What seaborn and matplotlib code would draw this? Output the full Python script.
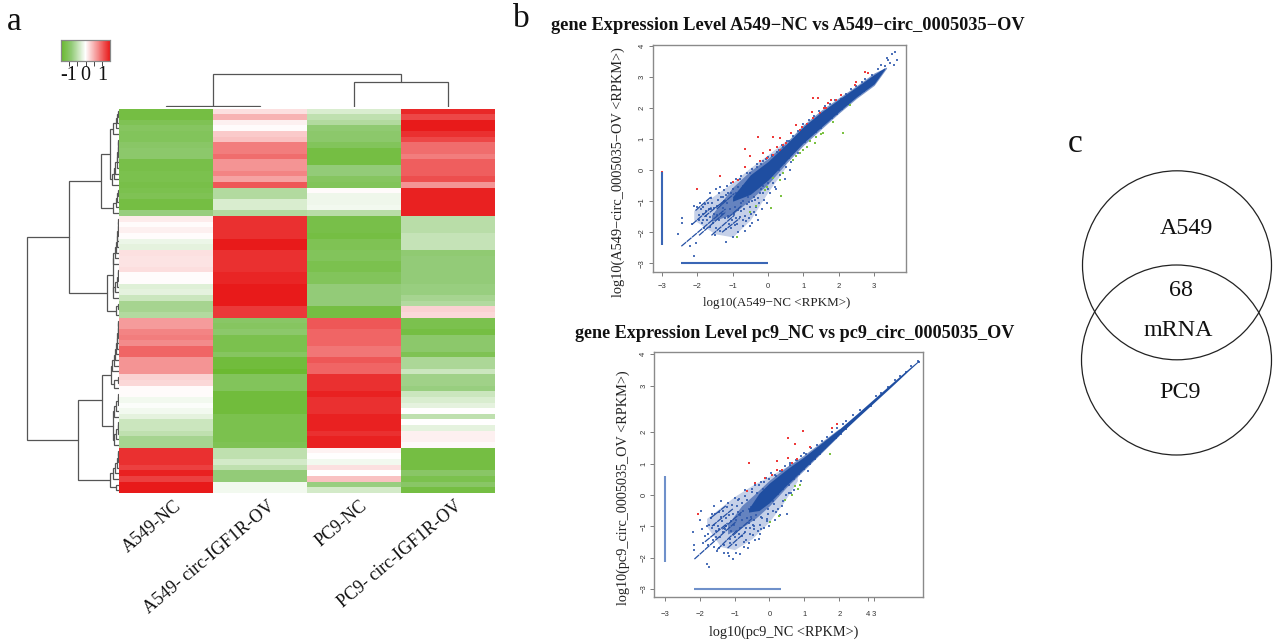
import pandas as pd
import seaborn as sns
import matplotlib.pyplot as plt
from matplotlib.colors import LinearSegmentedColormap
from matplotlib.patches import Circle

W, H = 1274, 641

# heatmap values
samples = ['A549-NC', 'A549- circ-IGF1R-OV', 'PC9-NC', 'PC9- circ-IGF1R-OV']
a549_nc = [-1.3, -1.3, -1.15, -1.05, -1.1, -1.1, -1.0, -0.95, -0.95, -1.25, -1.25, -1.2, -1.2, -1.25, -1.2, -1.15, -1.3, -1.3, -0.8,
           0.12, 0.03, 0.1, 0.02, -0.15, -0.2, 0.2, 0.18, 0.18, 0.22, 0.02, 0.02, -0.25, -0.2, -0.4, -0.7, -0.7, -0.6,
           0.65, 0.65, 0.8, 0.85, 0.75, 1.0, 1.0, 0.7, 0.7, 0.7, 0.3, 0.25, 0.03, 0.03, -0.1, -0.03, -0.1, -0.2, -0.4, -0.4, -0.5, -0.7, -0.7,
           1.35, 1.35, 1.35, 1.25, 1.45, 1.25, 1.5, 1.5]
a549_circ = [0.2, 0.5, 0.1, 0.03, 0.35, 0.4, 0.85, 0.85, 0.95, 0.7, 0.7, 0.8, 0.6, 1.1, -0.6, -0.6, -0.3, -0.3, -0.6,
             1.35, 1.35, 1.35, 1.35, 1.5, 1.5, 1.35, 1.35, 1.35, 1.35, 1.42, 1.42, 1.5, 1.5, 1.5, 1.5, 1.3, 1.3,
             -1.0, -1.05, -0.95, -1.2, -1.2, -1.2, -1.05, -1.35, -1.35, -1.45, -1.1, -1.1, -1.1, -1.35, -1.35, -1.35, -1.35, -1.2, -1.2, -1.2, -1.2, -1.2, -1.15,
             -0.5, -0.5, -0.35, -0.5, -0.85, -0.85, -0.1, -0.1]
pc9_nc = [-0.3, -0.5, -0.6, -0.9, -0.95, -0.95, -1.1, -1.3, -1.3, -1.3, -0.85, -0.85, -1.05, -1.1, 0.03, -0.12, -0.12, -0.1, -0.55,
          -1.25, -1.25, -1.25, -1.3, -1.15, -1.15, -1.1, -1.1, -1.2, -1.2, -1.1, -1.1, -0.85, -0.85, -0.85, -0.85, -1.3, -1.3,
          1.1, 1.1, 1.0, 1.0, 1.0, 0.9, 0.9, 1.1, 1.0, 1.0, 1.35, 1.35, 1.35, 1.45, 1.35, 1.35, 1.35, 1.45, 1.45, 1.45, 1.35, 1.45, 1.45,
          0.08, 0.0, -0.1, 0.2, 0.0, 0.4, -0.8, -0.35]
pc9_circ = [1.4, 1.2, 1.5, 1.5, 1.35, 1.2, 0.95, 0.95, 0.85, 1.05, 1.05, 1.05, 1.15, 0.7, 1.45, 1.45, 1.45, 1.45, 1.45,
            -0.55, -0.55, -0.55, -0.45, -0.45, -0.45, -0.9, -0.85, -0.85, -0.85, -0.85, -0.85, -0.8, -0.8, -0.7, -0.6, 0.3, 0.25,
            -1.2, -1.2, -1.3, -0.95, -0.95, -0.95, -1.15, -0.65, -0.65, -0.4, -0.75, -0.75, -0.8, -0.4, -0.3, -0.2, 0.0, -0.5, 0.0, -0.2, 0.1, 0.1, 0.04,
            -1.3, -1.3, -1.3, -1.3, -1.0, -1.2, -1.0, -1.3]

# row dendrogram: runs of rows (first, last, height) then the links above them
row_runs = [(0, 4, 6), (5, 13, 7), (14, 18, 6), (19, 27, 6), (28, 33, 6), (34, 36, 3),
            (37, 46, 7), (47, 49, 5), (50, 54, 5), (55, 59, 5), (60, 65, 6), (66, 67, 3)]
row_tree = (92, (50, (18.4, (9, 'r0', 'r1'), 'r2'), (12, (6, 'r3', 'r4'), 'r5')),
            (41, (17, (8, 'r6', 'r7'), (6, 'r8', 'r9')), (9, 'r10', 'r11')))
# column dendrogram: (height, left, right) with leaves as column index
col_tree = (33, (1, 0, 1), (25, 2, 3))

# scatter A549: dense band, softer layers round it, outer cloud, streaks
a549_band_x = [-1.0, -0.5, 0.0, 0.5, 1.0, 1.5, 2.0, 2.5, 3.0, 3.3]
a549_band_hi = [-0.85, -0.15, 0.28, 0.82, 1.4, 1.87, 2.28, 2.68, 3.08, 3.3]
a549_band_lo = [-1.0, -0.78, -0.32, 0.28, 0.88, 1.38, 1.88, 2.36, 2.78, 3.25]
a549_mid_x = [-1.6, -1.0, -0.5, 0.0, 0.5, 1.0, 1.5, 2.0, 2.5, 3.0, 3.35]
a549_mid_hi = [-1.45, -0.55, -0.02, 0.38, 0.88, 1.46, 1.93, 2.33, 2.72, 3.13, 3.32]
a549_mid_lo = [-1.65, -1.42, -0.95, -0.45, 0.2, 0.8, 1.32, 1.83, 2.31, 2.73, 3.28]
a549_halo_x = [-2.1, -1.5, -1.0, -0.5, 0.0, 0.5]
a549_halo_hi = [-1.3, -0.8, -0.4, 0.08, 0.5, 0.95]
a549_halo_lo = [-1.6, -2.05, -2.15, -1.6, -0.7, 0.1]
a549_cloud = [(-2.55, -2.05), (-2.42, -1.55), (-2.42, -1.7), (-2.1, -1.15), (-2.0, -1.2), (-1.95, -1.45), (-1.9, -1.25), (-2.15, -1.75),
              (-2.2, -2.45), (-2.1, -2.75), (-2.05, -2.35), (-1.85, -1.6), (-1.8, -1.85), (-1.75, -1.3), (-1.7, -1.05), (-1.65, -1.5),
              (-1.6, -0.9), (-1.55, -1.7), (-1.5, -2.1), (-1.45, -1.15), (-1.4, -0.75), (-1.35, -1.95), (-1.3, -1.4), (-1.25, -0.65),
              (-1.2, -2.3), (-1.15, -1.05), (-1.1, -1.75), (-1.05, -0.4), (-1.0, -2.15), (-0.95, -0.95), (-0.9, -1.55), (-0.85, -2.0),
              (-0.8, -0.3), (-0.75, -1.3), (-0.7, -1.8), (-0.65, -0.7), (-0.6, -1.1), (-0.55, -1.55), (-0.5, -0.1), (-0.45, -1.0),
              (-0.4, -1.35), (-1.62, -1.25), (-1.58, -1.05), (-1.52, -1.4), (-1.48, -1.85), (-1.42, -0.95), (-1.38, -1.6), (-1.33, -1.1),
              (-1.28, -0.85), (-1.22, -1.55), (-1.18, -1.9), (-1.12, -0.75), (-1.08, -1.25), (-1.02, -1.6), (-0.98, -0.6), (-0.92, -1.2),
              (-0.88, -1.75), (-0.82, -0.85), (-0.78, -1.5), (-0.72, -0.5), (-0.68, -1.25), (-0.62, -1.65), (-0.58, -0.35), (-0.52, -1.2),
              (-0.48, -1.4), (-0.42, -0.2), (-0.38, -0.95), (-0.35, -1.2), (-0.3, 0.1), (-0.28, -0.9), (-0.25, -1.05), (-0.2, 0.2),
              (-0.15, -0.75), (-0.1, -0.95), (-0.05, 0.35), (0.0, -0.6), (0.05, -0.75), (0.1, 0.45), (0.15, -0.4), (0.2, -0.55),
              (0.3, 0.65), (0.35, -0.15), (0.42, 0.75), (0.5, 0.1), (0.6, 0.95), (0.65, 0.25), (0.75, 1.05), (0.85, 0.55),
              (-1.72, -1.62), (-1.68, -1.25), (-1.63, -0.75), (-1.78, -1.1), (-1.83, -1.42), (-1.88, -1.7), (-1.92, -1.05), (-1.36, -0.55),
              (-1.26, -1.22), (-1.16, -0.5), (-1.06, -1.85), (-0.96, -1.4), (-0.86, -0.55), (-0.76, -1.05), (-0.66, -1.95), (-0.56, -0.85),
              (-0.46, -1.7), (-0.36, -0.6), (-0.26, -0.35), (-0.16, -1.25), (-0.06, -0.35), (3.2, 3.4), (3.3, 3.35), (3.4, 3.55), (3.5, 3.75),
              (3.6, 3.8), (3.65, 3.55), (3.55, 3.4), (3.2, 3.15), (3.05, 3.0), (2.95, 3.05), (3.0, 2.8), (2.85, 2.75), (3.1, 3.25), (3.35, 3.6),
              (3.45, 3.45), (2.75, 2.95), (2.65, 2.85), (2.6, 2.45), (2.7, 2.55)]
a549_edge = [(-0.9, -0.3), (-0.75, -0.2), (-0.6, -0.1), (-0.45, 0.05), (-0.3, 0.2), (-0.15, 0.3), (0.0, 0.42), (0.1, 0.5), (0.25, 0.6), (0.4, 0.8),
             (0.55, 0.95), (0.7, 1.1), (0.85, 1.25), (1.0, 1.5), (1.15, 1.6), (1.3, 1.75), (1.45, 1.9), (1.6, 2.05), (1.75, 2.12), (1.9, 2.25),
             (2.05, 2.3), (2.2, 2.45), (2.35, 2.6), (2.5, 2.72), (-0.7, -1.0), (-0.4, -0.85), (-0.2, -0.6), (0.0, -0.4), (0.15, -0.25), (0.3, 0.02),
             (0.45, 0.22), (0.6, 0.4), (0.75, 0.65), (0.9, 0.8), (1.05, 0.92), (1.2, 1.1), (1.35, 1.22), (1.5, 1.35), (1.65, 1.55), (1.8, 1.68),
             (1.95, 1.82), (2.1, 1.98), (2.25, 2.12), (2.4, 2.3), (2.55, 2.42), (2.7, 2.55), (-1.24, -0.98), (-1.14, -1.48), (-1.04, -0.72), (-0.94, -1.78),
             (-0.84, -1.28), (-0.74, -0.78), (-0.64, -1.48), (-0.54, -1.02), (-0.44, -0.58), (-0.34, -1.46), (-0.24, -0.72), (-0.14, -0.5), (-1.44, -1.45),
             (-1.34, -0.88), (-1.54, -1.22), (-1.64, -1.82), (-1.74, -1.48), (-1.84, -1.18), (-1.94, -1.62), (-0.6, -0.55), (-0.3, -0.2), (0.08, 0.2),
             (-1.46, -0.62), (-1.2, -0.8), (-0.9, -0.75), (-0.72, -1.6), (-0.5, -1.8), (-0.28, -1.6), (-0.02, -1.05), (0.22, -0.62), (0.48, -0.3), (0.62, 0.0)]
a549_red = [(-2.0, -0.62), (-0.66, 0.11), (-0.64, 0.68), (-0.51, 0.44), (-0.28, 1.08), (0.15, 1.06), (0.33, 1.03), (-0.14, 0.54), (0.05, 0.65),
            (0.24, 0.76), (0.43, 0.81), (0.66, 1.19), (0.8, 1.46), (0.95, 1.4), (1.09, 1.5), (1.23, 1.88), (1.27, 2.31), (1.41, 2.31), (1.57, 1.99),
            (1.7, 2.15), (1.79, 2.26), (1.93, 2.26), (2.07, 2.42), (2.5, 2.85), (2.73, 3.15), (2.83, 3.14), (2.45, 2.74), (-0.84, -0.31), (-0.98, -0.37),
            (-1.36, -0.2), (-0.23, 0.28), (-0.04, 0.38), (0.15, 0.5), (0.52, 0.87), (0.33, 0.65), (0.9, 1.3), (1.27, 1.67), (1.46, 1.83), (1.65, 1.99),
            (-3, -0.05), (-3, -0.15), (-3, -0.35), (-3, -0.45), (-3, -0.7)]
a549_green = [(-0.89, -2.16), (-0.51, -1.34), (-0.33, -1.17), (-0.09, -0.64), (0.08, -1.23), (0.38, -0.82), (0.15, -0.26), (0.43, -0.1), (0.71, 0.33),
              (0.9, 0.54), (1.09, 0.76), (1.32, 0.87), (1.56, 1.19), (1.37, 1.08), (1.84, 1.56), (2.12, 1.21), (2.33, 2.1), (0.8, 0.44), (0.99, 0.65),
              (0.33, -0.32), (-0.04, -0.53), (1.2, 0.95), (1.5, 1.15)]
a549_streak_x0 = [-2.45, -2.15, -1.95, -1.8, -1.6, -1.45, -2.05, -1.3, -1.15]
a549_streak_y0 = [-2.45, -1.75, -2.1, -1.5, -2.1, -1.25, -1.3, -2.0, -1.55]
a549_streak_x1 = [-1.2, -1.6, -1.2, -1.2, -0.95, -0.95, -1.6, -0.8, -0.75]
a549_streak_y1 = [-1.25, -1.2, -1.35, -0.95, -1.45, -0.75, -0.85, -1.55, -1.15]
a549_strip_v = [-2.4, -0.05]
a549_strip_h = [-2.45, 0.0]

# scatter PC9, the same pieces
pc9_band_x = [-0.6, -0.3, 0.0, 0.5, 1.0, 1.5, 2.0, 2.5, 3.0, 3.5, 4.0, 4.28]
pc9_band_hi = [-0.45, 0.05, 0.38, 0.82, 1.22, 1.66, 2.1, 2.58, 3.07, 3.56, 4.04, 4.3]
pc9_band_lo = [-0.55, -0.5, -0.25, 0.32, 0.85, 1.38, 1.92, 2.44, 2.95, 3.46, 3.98, 4.26]
pc9_mid_x = [-1.2, -0.8, -0.4, 0.0, 0.5, 1.0, 1.5, 2.0]
pc9_mid_hi = [-0.95, -0.35, 0.05, 0.47, 0.9, 1.28, 1.7, 2.12]
pc9_mid_lo = [-1.25, -1.05, -0.75, -0.35, 0.26, 0.8, 1.35, 1.9]
pc9_halo_x = [-1.8, -1.4, -1.0, -0.5, 0.0, 0.4, 0.8]
pc9_halo_hi = [-0.75, -0.4, -0.05, 0.3, 0.6, 0.85, 1.1]
pc9_halo_lo = [-1.0, -1.65, -1.75, -1.4, -0.85, -0.25, 0.45]
pc9_cloud = [(-2.2, -1.2), (-2.15, -1.6), (-2.15, -1.75), (-2.0, -0.8), (-1.95, -0.5), (-1.9, -1.55), (-1.8, -1.0), (-1.78, -2.2),
             (-1.75, -1.25), (-1.72, -2.3), (-1.68, -0.75), (-1.62, -1.45), (-1.6, -0.35), (-1.58, -0.95), (-1.52, -1.15), (-1.5, -1.8),
             (-1.45, -0.55), (-1.42, -1.35), (-1.38, -0.2), (-1.35, -0.85), (-1.3, -1.6), (-1.28, -1.1), (-1.22, -0.4), (-1.2, -1.85),
             (-1.15, -0.65), (-1.12, -1.4), (-1.05, -2.05), (-1.02, -0.95), (-0.98, -0.1), (-0.95, -1.6), (-0.9, -0.55), (-0.88, -1.25),
             (-0.85, -1.9), (-0.8, -0.25), (-0.78, -0.8), (-0.72, -1.5), (-0.7, 0.15), (-0.68, -1.05), (-0.62, -1.7), (-0.6, -0.45),
             (-0.55, -1.25), (-0.5, 0.2), (-0.48, -0.95), (-0.42, -1.45), (-0.4, 0.3), (-0.38, -0.65), (-0.32, -1.15), (-0.3, -1.4),
             (-0.25, 0.4), (-0.2, -0.75), (-0.15, -1.05), (-0.1, 0.55), (-0.05, -0.6), (0.0, -1.0), (0.05, 0.7), (0.1, -0.5),
             (0.15, -0.8), (0.2, 0.6), (0.25, -0.45), (0.3, -0.65), (0.35, 0.75), (0.4, -0.2), (0.5, -0.6), (0.55, 0.05), (0.6, 0.95),
             (0.7, 0.15), (0.8, 1.1), (0.9, 0.45), (1.0, 1.35), (1.1, 0.75), (-1.65, -1.05), (-1.55, -0.6), (-1.48, -1.0), (-1.4, -0.7),
             (-1.33, -1.2), (-1.25, -0.75), (-1.18, -0.25), (-1.1, -0.85), (-1.0, -1.35), (-0.93, -0.35), (-0.83, -1.05), (-0.75, -0.5),
             (-0.65, -0.15), (-0.58, -1.55), (-0.52, -0.7), (-0.45, -1.1), (-0.35, 0.05), (-0.27, -1.25), (-0.18, 0.2), (-0.08, -0.85),
             (0.02, 0.3), (0.12, -0.3), (-1.75, -1.6), (-1.6, -1.65), (-1.45, -1.7), (-1.3, -1.85), (-1.15, -1.95), (-0.95, -1.85),
             (-0.7, -1.2), (-0.6, -0.9), (3.05, 3.15), (3.2, 3.25), (3.4, 3.45), (3.6, 3.68), (3.75, 3.8), (3.9, 3.92), (4.05, 4.12), (4.25, 4.28), (4.3, 4.25),
             (2.6, 2.72), (2.4, 2.55), (2.2, 2.35), (2.75, 2.7), (2.9, 2.85)]
pc9_edge = [(-0.9, -0.15), (-0.7, -0.05), (-0.5, 0.08), (-0.3, 0.3), (-0.15, 0.42), (0.0, 0.52), (0.15, 0.62), (0.3, 0.75), (0.45, 0.92), (0.6, 1.02),
            (0.75, 1.12), (0.9, 1.25), (1.05, 1.32), (1.2, 1.48), (1.35, 1.58), (1.5, 1.72), (1.65, 1.85), (1.8, 2.0), (1.95, 2.15), (2.1, 2.27),
            (-0.45, -0.98), (-0.25, -0.72), (-0.05, -0.45), (0.1, -0.2), (0.25, 0.02), (0.4, 0.18), (0.55, 0.3), (0.7, 0.52), (0.85, 0.68), (1.0, 0.82),
            (1.15, 1.0), (1.3, 1.15), (1.45, 1.3), (1.6, 1.48), (1.75, 1.65), (1.9, 1.8), (2.05, 1.95), (2.2, 2.1), (-1.24, -1.0), (-1.14, -1.55), (-1.04, -0.6),
            (-0.94, -1.15), (-0.84, -0.65), (-0.74, -1.65), (-0.64, -0.75), (-0.54, -0.4), (-0.44, -0.8), (-0.34, -0.35), (-0.24, -1.1), (-0.14, -0.2),
            (-1.44, -1.1), (-1.34, -0.5), (-1.54, -1.35), (-1.64, -0.6), (-1.74, -0.95), (-1.84, -1.3), (-1.94, -1.1), (-1.06, -0.32), (-0.86, -0.12),
            (-0.66, -1.45), (-0.46, -1.28), (-0.26, -0.95), (-0.06, -0.78), (0.18, -0.55), (0.35, -0.35), (0.48, 0.0), (0.62, 0.05), (-1.1, -1.15),
            (-0.95, -0.8), (-0.78, -1.3), (-0.56, -1.05), (-0.2, 0.05), (0.05, 0.12)]
pc9_red = [(-2.05, -0.62), (-0.58, 1.02), (0.54, 1.81), (0.95, 2.05), (0.73, 1.63), (0.23, 1.09), (0.54, 1.17), (0.64, 1.03), (0.78, 1.14),
           (0.21, 0.8), (0.35, 0.78), (0.07, 0.64), (-0.12, 0.53), (-0.41, 0.39), (-0.63, 0.11), (1.16, 1.54), (1.78, 2.13), (1.95, 2.27)]
pc9_green = [(0.02, -0.88), (0.26, -0.69), (0.45, -0.16), (0.64, 0.0), (0.74, 0.27), (0.83, 0.19), (1.74, 1.31), (0.88, 0.32)]
pc9_streak_x0 = [-2.15, -1.85, -1.65, -1.5, -1.35, -1.2, -1.7, -1.05]
pc9_streak_y0 = [-2.05, -1.5, -1.0, -1.75, -1.1, -1.7, -0.75, -1.3]
pc9_streak_x1 = [-0.95, -1.2, -1.05, -0.95, -0.8, -0.7, -1.25, -0.5]
pc9_streak_y1 = [-0.85, -0.9, -0.45, -1.15, -0.55, -1.2, -0.35, -0.75]
pc9_strip_v = [-2.15, 0.6]
pc9_strip_h = [-2.15, 0.33]

y_ticks_a549 = [-3, -2, -1, 0, 1, 2, 3, 4]
x_ticks_a549 = [-3, -2, -1, 0, 1, 2, 3]
# the second plot has odd tick places, 4 and 3 sit side by side on x
x_ticks_pc9 = [-3, -2, -1, 0, 1, 2, 2.83, 3]
x_labels_pc9 = ['\u22123', '\u22122', '\u22121', '0', '1', '2', '4', '3']
y_ticks_pc9 = [-3, -2, -1, 0, 1, 2, 3.49, 4.5]
y_labels_pc9 = ['\u22123', '\u22122', '\u22121', '0', '1', '2', '3', '4']

sns.set_theme(style='white')
plt.rcParams['font.family'] = ['Liberation Serif', 'DejaVu Sans']

fig = plt.figure(figsize=(W / 100, H / 100), dpi=100)


def px_axes(x0, y0, x1, y1):
    return fig.add_axes([x0 / W, 1 - y1 / H, (x1 - x0) / W, (y1 - y0) / H])


def make_run(first, last, top):
    # long thin chain of merges close to the heatmap
    node = first
    rows = list(range(first + 1, last + 1))
    for i, r in enumerate(rows):
        node = (1 + (top - 1) * ((i + 1) / len(rows)) ** 3, node, r)
    return node


def draw_tree(ax, node, leaf_pos, vertical_rows):
    # returns (position, height) of the node
    if isinstance(node, str):
        first, last, top = row_runs[int(node[1:])]
        node = make_run(first, last, top)
    if not isinstance(node, tuple):
        return leaf_pos(node), 0
    h, a, b = node
    pa, ha = draw_tree(ax, a, leaf_pos, vertical_rows)
    pb, hb = draw_tree(ax, b, leaf_pos, vertical_rows)
    hs = [ha, h, h, hb]
    ps = [pa, pa, pb, pb]
    if vertical_rows:
        ax.plot(hs, ps, color='#555555', lw=0.9, solid_joinstyle='miter')
    else:
        ax.plot(ps, hs, color='#555555', lw=0.9, solid_joinstyle='miter')
    return (pa + pb) / 2, h


# panel a
heat = pd.DataFrame({'a': a549_nc, 'b': a549_circ, 'c': pc9_nc, 'd': pc9_circ})
cmap = LinearSegmentedColormap.from_list('gwr', [(0, '#68b82c'), (0.217, '#93cb78'), (0.5, '#ffffff'), (1, '#e81a1a')])
ax_heat = px_axes(119, 108.5, 495, 493)
ax_cbar = px_axes(61, 40, 110, 61)
sns.heatmap(heat, ax=ax_heat, cmap=cmap, vmin=-1.5, vmax=1.5, yticklabels=False,
            cbar_ax=ax_cbar, cbar_kws={'orientation': 'horizontal', 'ticks': [-1, -0.5, 0, 0.5, 1]})
ax_heat.set_xticks([0.64, 1.64, 2.62, 3.63], samples, rotation=40, ha='right', va='center',
                   rotation_mode='anchor', fontsize=13, color='#111111')
ax_heat.tick_params(axis='x', length=0, pad=8)

ax_cbar.set_xticklabels(['-1', '', '0', '', '1'], fontsize=14.5, color='#111111')
ax_cbar.tick_params(axis='x', length=3.5, width=0.7, color='#444444', pad=0, bottom=True)
for spine in ax_cbar.spines.values():
    spine.set_visible(True)
    spine.set_color('#888888')
    spine.set_linewidth(0.8)

ax_rows = px_axes(26, 108.5, 119, 493)
draw_tree(ax_rows, row_tree, lambda r: r + 0.5, True)
ax_rows.set_xlim(93, 0)
ax_rows.set_ylim(68, 0)
ax_rows.axis('off')

ax_cols = px_axes(119, 70, 495, 107)
draw_tree(ax_cols, col_tree, lambda c: c + 0.5, False)
ax_cols.set_xlim(0, 4)
ax_cols.set_ylim(0, 37)
ax_cols.axis('off')


def draw_scatter(box, xlim, ylim, band, mid, halo, cloud, red, green, streaks, strip_v, strip_h, strip_color):
    ax = px_axes(*box)
    ax.fill_between(halo[0], halo[2], halo[1], color='#2f59ad', alpha=0.28, lw=0)
    ax.fill_between(mid[0], mid[2], mid[1], color='#2550a5', alpha=0.6, lw=0)
    for x0, y0, x1, y1 in zip(*streaks):
        ax.plot([x0, x1], [y0, y1], color='#2450a4', lw=0.9, ls=(0, (5, 0.6)))
    ax.plot([-3, -3], strip_v, color=strip_color, lw=1.5, solid_capstyle='butt')
    ax.plot(strip_h, [-3, -3], color=strip_color, lw=1.5, solid_capstyle='butt')
    cloud_df = pd.DataFrame(cloud, columns=['x', 'y'])
    sns.scatterplot(data=cloud_df, x='x', y='y', ax=ax, color='#2f59ad', marker='s', s=2.8, linewidth=0, alpha=0.85)
    red_df = pd.DataFrame(red, columns=['x', 'y'])
    sns.scatterplot(data=red_df, x='x', y='y', ax=ax, color='#ee3a3a', marker='s', s=2.4, linewidth=0)
    green_df = pd.DataFrame(green, columns=['x', 'y'])
    sns.scatterplot(data=green_df, x='x', y='y', ax=ax, color='#7cc243', marker='s', s=2.4, linewidth=0)
    ax.fill_between(band[0], band[2], band[1], color='#1f4ea1', lw=0)
    ax.set_xlim(*xlim)
    ax.set_ylim(*ylim)
    for spine in ax.spines.values():
        spine.set_color('#8a8a8a')
        spine.set_linewidth(1.0)
        spine.set_visible(True)
    ax.tick_params(axis='both', length=3, width=0.6, color='#666666', labelsize=5.5, pad=2, labelcolor='#333333',
                   bottom=True, left=True)
    return ax


ax1 = draw_scatter((652.7, 44.7, 906, 272.3), (-3.26, 3.9), (-3.29, 4.04),
                   (a549_band_x, a549_band_hi, a549_band_lo), (a549_mid_x, a549_mid_hi, a549_mid_lo),
                   (a549_halo_x, a549_halo_hi, a549_halo_lo),
                   a549_cloud + a549_edge, a549_red, a549_green,
                   (a549_streak_x0, a549_streak_y0, a549_streak_x1, a549_streak_y1),
                   a549_strip_v, a549_strip_h, '#3a66b5')
ax1.set_xticks(x_ticks_a549, ['\u2212' + str(-t) if t < 0 else str(t) for t in x_ticks_a549], family='Liberation Sans')
ax1.set_yticks(y_ticks_a549, ['\u2212' + str(-t) if t < 0 else str(t) for t in y_ticks_a549], rotation=90, va='center', family='Liberation Sans')
ax1.tick_params(axis='x', pad=5)
ax1.set_xlabel('log10(A549\u2212NC <RPKM>)', fontsize=9.4, color='#222222')
ax1.set_ylabel('log10(A549\u2212circ_0005035\u2212OV <RPKM>)', fontsize=10.4, color='#222222')
ax1.xaxis.set_label_coords((776.7 - 652.7) / 253.3, 1 - (297 - 44.7) / 227.6, transform=ax1.transAxes)
ax1.yaxis.set_label_coords((625 - 652.7) / 253.3, 1 - (172 - 44.7) / 227.6, transform=ax1.transAxes)

ax2 = draw_scatter((654.3, 351.7, 923.3, 597.3), (-3.3, 4.41), (-3.27, 4.57),
                   (pc9_band_x, pc9_band_hi, pc9_band_lo), (pc9_mid_x, pc9_mid_hi, pc9_mid_lo),
                   (pc9_halo_x, pc9_halo_hi, pc9_halo_lo),
                   pc9_cloud + pc9_edge, pc9_red, pc9_green,
                   (pc9_streak_x0, pc9_streak_y0, pc9_streak_x1, pc9_streak_y1),
                   pc9_strip_v, pc9_strip_h, '#6f90ca')
ax2.set_xticks(x_ticks_pc9, x_labels_pc9, family='Liberation Sans')
ax2.set_yticks(y_ticks_pc9, y_labels_pc9, rotation=90, va='center', family='Liberation Sans')
ax2.tick_params(axis='x', pad=7)
ax2.set_xlabel('log10(pc9_NC <RPKM>)', fontsize=10.3, color='#222222')
ax2.set_ylabel('log10(pc9_circ_0005035_OV <RPKM>)', fontsize=10.3, color='#222222')
ax2.xaxis.set_label_coords((784 - 654.3) / 269, 1 - (626 - 351.7) / 245.6, transform=ax2.transAxes)
ax2.yaxis.set_label_coords((630 - 654.3) / 269, 1 - (488 - 351.7) / 245.6, transform=ax2.transAxes)

fig.text(787.5 / W, 1 - 25 / H, 'gene Expression Level A549\u2212NC vs A549\u2212circ_0005035\u2212OV',
         ha='center', va='center', fontsize=13.2, fontweight='bold', color='#111111')
fig.text(795 / W, 1 - 333 / H, 'gene Expression Level pc9_NC vs pc9_circ_0005035_OV',
         ha='center', va='center', fontsize=13.1, fontweight='bold', color='#111111')

# panel letters
fig.text(7 / W, 1 - 30 / H, 'a', fontsize=24, color='#111111')
fig.text(513 / W, 1 - 27 / H, 'b', fontsize=24, color='#111111')
fig.text(1068 / W, 1 - 152 / H, 'c', fontsize=24, color='#111111')

# panel c
ax_venn = px_axes(0, 0, W, H)
ax_venn.set_xlim(0, W)
ax_venn.set_ylim(H, 0)
ax_venn.axis('off')
ax_venn.patch.set_alpha(0)
ax_venn.add_patch(Circle((1177, 265.3), 94.5, fill=False, ec='#222222', lw=0.9))
ax_venn.add_patch(Circle((1176.5, 360), 95, fill=False, ec='#222222', lw=0.9))
for label, lx, ly in [('A549', 1186, 229), ('68', 1181, 290), ('mRNA', 1178, 330), ('PC9', 1180, 393)]:
    ax_venn.text(lx, ly, label, ha='center', va='center', fontsize=17.3, color='#111111')

fig.savefig('out.png', dpi=100)
plt.close('all')
